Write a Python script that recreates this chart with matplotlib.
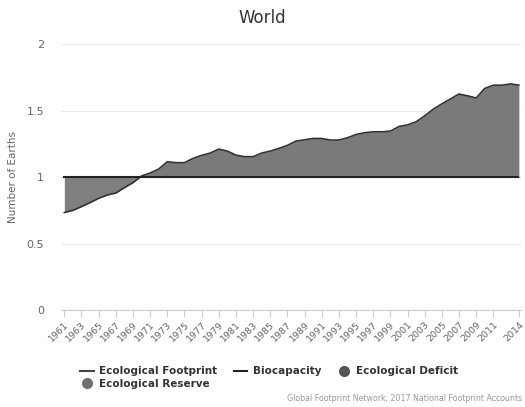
import matplotlib
matplotlib.use('Agg')
import matplotlib.pyplot as plt
from matplotlib.lines import Line2D
import numpy as np

years = list(range(1961, 2015))
footprint = [0.733, 0.75, 0.778, 0.808, 0.84, 0.865, 0.88, 0.92, 0.958, 1.008,
             1.03, 1.06, 1.115, 1.108, 1.108, 1.14, 1.163, 1.18, 1.21, 1.195,
             1.165, 1.153, 1.153, 1.18, 1.195, 1.215, 1.238, 1.27, 1.28, 1.29,
             1.29, 1.278, 1.278, 1.295, 1.32, 1.333, 1.34, 1.34, 1.345, 1.38,
             1.392, 1.415, 1.46, 1.51, 1.55, 1.587, 1.624, 1.61, 1.594, 1.666,
             1.69, 1.69, 1.70, 1.69]
biocapacity = [1.0] * len(years)
tick_years = list(range(1961, 2012, 2)) + [2014]

fp = np.array(footprint)
bc = np.array(biocapacity)

fig = plt.figure(figsize=(5.25, 4.07), dpi=100)
ax = fig.add_axes([0.116, 0.238, 0.876, 0.654])

ax.fill_between(years, fp, bc, where=fp >= bc, interpolate=True,
                color='#7a7a7a', linewidth=0)
ax.fill_between(years, fp, bc, where=fp <= bc, interpolate=True,
                color='#7f7f7f', linewidth=0)
ax.plot(years, footprint, color='#333333', linewidth=1.2)
ax.plot(years, biocapacity, color='#222222', linewidth=1.5)
ax.vlines(years[-1], bc[-1], fp[-1], color='#cccccc', linewidth=0.8)

ax.set_xlim(1960.6, 2014.2)
ax.set_ylim(0, 2)
ax.set_yticks([0, 0.5, 1, 1.5, 2])
ax.set_yticklabels(['0', '0.5', '1', '1.5', '2'])
ax.set_xticks(tick_years)
ax.set_xticklabels([str(y) for y in tick_years], rotation=45, ha='right',
                   rotation_mode='anchor')
ax.grid(axis='y', color='#e6e6e6', linewidth=0.8)
ax.set_axisbelow(True)
for s in ['top', 'right', 'left']:
    ax.spines[s].set_visible(False)
ax.spines['bottom'].set_color('#cccccc')
ax.tick_params(axis='y', length=0, labelsize=8, labelcolor='#666666', pad=12)
ax.tick_params(axis='x', length=5, color='#cccccc', labelsize=6.8,
               labelcolor='#666666', pad=2)

ax.set_ylabel('Number of Earths', fontsize=7.5, color='#666666', labelpad=6)
fig.text(0.5, 0.957, 'World', ha='center', va='center', fontsize=12,
         color='#333333')

handles = [
    Line2D([0], [0], color='#444444', linewidth=1.5, label='Ecological Footprint'),
    Line2D([0], [0], marker='o', linestyle='none', markersize=8,
           markerfacecolor='#6f6f6f', markeredgecolor='none',
           label='Ecological Reserve'),
    Line2D([0], [0], color='#222222', linewidth=1.5, label='Biocapacity'),
    Line2D([0], [0], marker='o', linestyle='none', markersize=8,
           markerfacecolor='#555555', markeredgecolor='none',
           label='Ecological Deficit'),
]
leg = fig.legend(handles=handles, ncol=3, loc='center left',
                 bbox_to_anchor=(0.135, 0.072), frameon=False,
                 prop={'size': 7.5, 'weight': 'bold'}, handlelength=1.3,
                 handletextpad=0.5, columnspacing=1.6, labelspacing=0.25)
for t in leg.get_texts():
    t.set_color('#333333')

fig.text(0.995, 0.022, 'Global Footprint Network, 2017 National Footprint Accounts',
         fontsize=5.7, color='#999999', va='center', ha='right')

fig.savefig('out.png', dpi=100)
